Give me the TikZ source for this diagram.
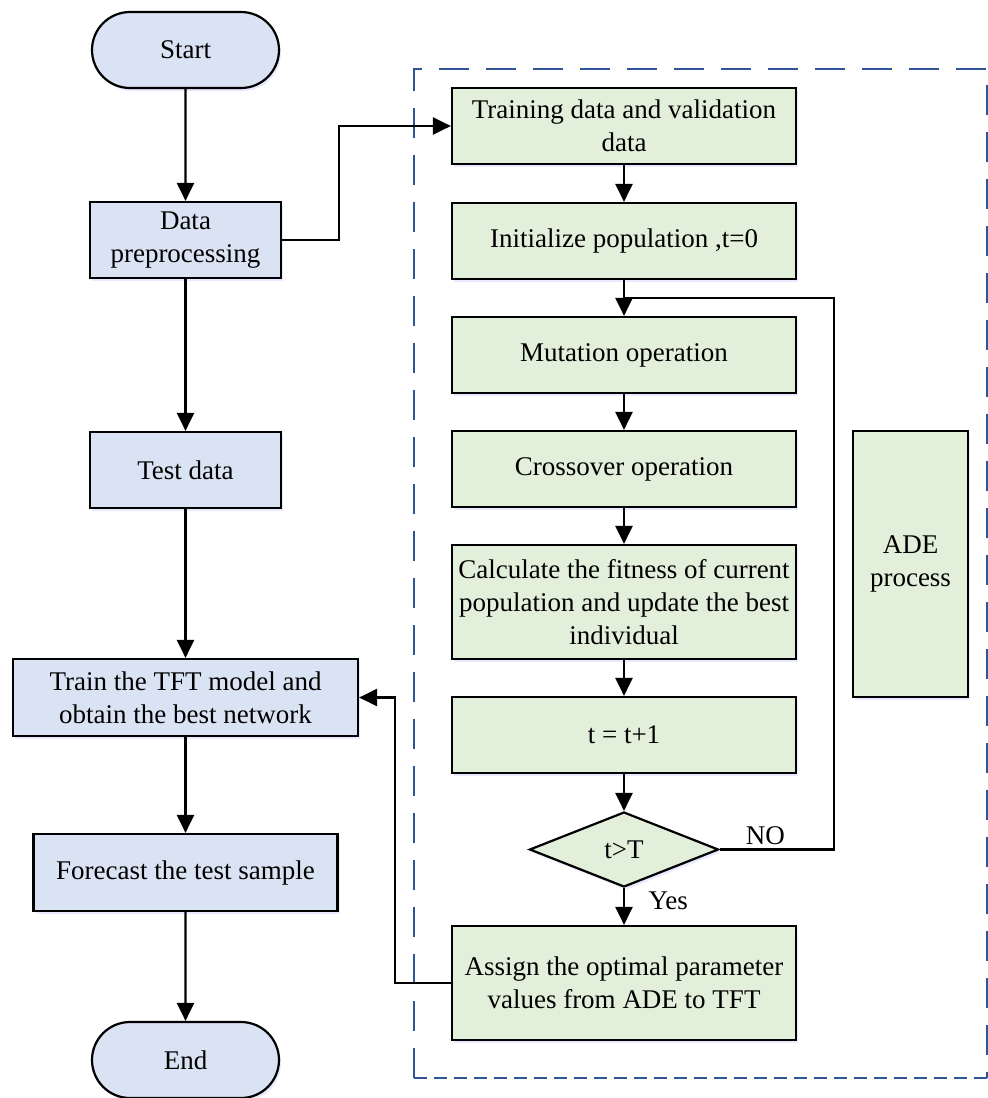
\documentclass[tikz,border=0pt]{standalone}
\usepackage{fontspec}
\setmainfont{Liberation Serif}
\usetikzlibrary{arrows.meta, shapes.misc, shapes.geometric, shadows}
\definecolor{bluefill}{HTML}{DAE3F3}
\definecolor{greenfill}{HTML}{E2EFDA}
\definecolor{dashblue}{HTML}{2F5597}

\begin{document}
\begin{tikzpicture}[x=1pt, y=-1pt,
  font=\fontsize{27}{33}\selectfont,
  box/.style={draw, line width=2.2pt, rectangle, align=center, inner sep=2pt,
    drop shadow={shadow xshift=2pt, shadow yshift=-3pt, fill=blue!25, opacity=.35}},
  bbox/.style={box, fill=bluefill},
  gbox/.style={box, fill=greenfill},
  term/.style={bbox, rounded rectangle, minimum width=191pt, minimum height=76pt},
  flow/.style={line width=2.4pt, -{Triangle[length=18pt,width=17pt]}},
  link/.style={line width=2.4pt}]
\useasboundingbox (0,0) rectangle (988,1098);

\draw[dashblue, line width=2pt, dash pattern=on 30pt off 17pt] (414,1078) -- (414,69) -- (987,69) -- (987,1078);
\draw[dashblue, line width=2pt, dash pattern=on 13pt off 7pt] (414,1078) -- (987,1078);

\node[term] (start) at (185.5,50) {Start};
\node[bbox, minimum width=191pt, minimum height=76pt] (prep) at (185.5,240) {Data\\preprocessing};
\node[bbox, minimum width=191pt, minimum height=76pt] (test) at (185.5,470) {Test data};
\node[bbox, minimum width=345pt, minimum height=77pt] (train) at (185.5,697.5) {Train the TFT model and\\obtain the best network};
\node[bbox, minimum width=304pt, minimum height=77pt] (fcst) at (185.5,872.5) {Forecast the test sample};
\node[term] (end) at (185.5,1060) {End};

\node[gbox, minimum width=344pt, minimum height=76pt] (data) at (624,126) {Training data and validation\\data};
\node[gbox, minimum width=344pt, minimum height=76pt] (init) at (624,241) {Initialize population ,t=0};
\node[gbox, minimum width=344pt, minimum height=76pt] (mut) at (624,355) {Mutation operation};
\node[gbox, minimum width=344pt, minimum height=76pt] (cross) at (624,469) {Crossover operation};
\node[gbox, minimum width=344pt, minimum height=114pt] (fit) at (624,602) {Calculate the fitness of current\\population and update the best\\individual};
\node[gbox, minimum width=344pt, minimum height=76pt] (incr) at (624,735) {t = t+1};
\node[gbox, diamond, aspect=2.5, inner sep=0pt, minimum width=189pt, minimum height=75pt] (check) at (624,849.5) {t>T};
\node[gbox, minimum width=344pt, minimum height=114pt] (assign) at (624,983) {Assign the optimal parameter\\values from ADE to TFT};
\node[gbox, minimum width=115pt, minimum height=266pt] (ade) at (910.5,564) {ADE\\process};

\draw[flow] (start) -- (prep);
\draw[flow] (prep) -- (test);
\draw[flow] (test) -- (train);
\draw[flow] (train) -- (fcst);
\draw[flow] (fcst) -- (end);
\draw[flow] (prep.east) -- ++(57,0) |- (data.west);
\draw[flow] (data) -- (init);
\draw[flow] (init) -- (mut);
\draw[flow] (mut) -- (cross);
\draw[flow] (cross) -- (fit);
\draw[flow] (fit) -- (incr);
\draw[flow] (incr) -- (check);
\draw[flow] (check) -- node[right, xshift=20pt, pos=.35]{Yes} (assign);
\coordinate (back) at (834,298);
\draw[link] (check.east) -- node[above, pos=.4]{NO} (check.east -| back) -- (back) -- (mut.north |- back);
\draw[flow] (assign.west) -- ++(-56,0) |- (train.east);
\end{tikzpicture}
\end{document}
